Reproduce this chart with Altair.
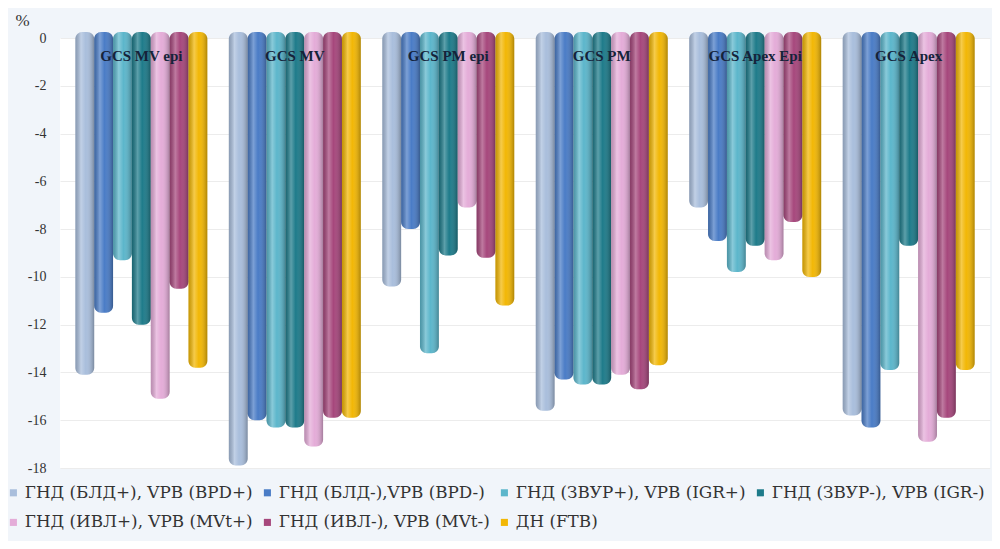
import altair as alt
import pandas as pd

groups = ["GCS MV epi", "GCS MV", "GCS PM epi", "GCS PM", "GCS Apex Epi", "GCS Apex"]
series = [
    "ГНД (БЛД+), VPB (BPD+)",
    "ГНД (БЛД-),VPB (BPD-)",
    "ГНД (ЗВУР+), VPB (IGR+)",
    "ГНД (ЗВУР-), VPB (IGR-)",
    "ГНД (ИВЛ+), VPB (MVt+)",
    "ГНД (ИВЛ-), VPB (MVt-)",
    "ДН (FTB)",
]
colors = ["#a9bedc", "#4a7cc6", "#5cb6cb", "#1e7b8a", "#e4acd8", "#a6477c", "#f2b705"]

bpd_pos = [-14.1, -17.9, -10.4, -15.6, -7.1, -15.8]
bpd_neg = [-11.5, -16.0, -8.0, -14.3, -8.5, -16.3]
igr_pos = [-9.3, -16.3, -13.2, -14.5, -9.8, -13.9]
igr_neg = [-12.0, -16.3, -9.1, -14.5, -8.7, -8.7]
mvt_pos = [-15.1, -17.1, -7.1, -14.1, -9.3, -16.9]
mvt_neg = [-10.5, -15.9, -9.2, -14.7, -7.7, -15.9]
ftb = [-13.8, -15.9, -11.2, -13.7, -10.0, -13.9]

y_ticks = [0, -2, -4, -6, -8, -10, -12, -14, -16, -18]

all_vals = [bpd_pos, bpd_neg, igr_pos, igr_neg, mvt_pos, mvt_neg, ftb]
rows = []
for s_i, s in enumerate(series):
    for g_i, g in enumerate(groups):
        rows.append({"group": g, "series": s, "order": s_i, "value": all_vals[s_i][g_i]})
df = pd.DataFrame(rows)
labels_df = pd.DataFrame({"group": groups})

serif = "Liberation Serif"
legend_font = "DejaVu Serif"

x_scale = alt.Scale(paddingInner=0.14, paddingOuter=0.1)
x_enc = alt.X("group:N", sort=groups, axis=None, scale=x_scale)
xoff = alt.XOffset("series:N", sort=series)
y_enc = alt.Y("value:Q",
              scale=alt.Scale(domain=[-18, 0], nice=False),
              axis=alt.Axis(values=y_ticks, title="%", titleAngle=0, titleX=-38, titleY=-18,
                            titleBaseline="middle", titleAlign="center",
                            titleFont=serif, titleFontSize=17, titleFontWeight="normal",
                            titleColor="#333333", labelFont=serif, labelFontSize=14,
                            labelColor="#333333", labelPadding=14, domain=False, ticks=False,
                            labelExpr="datum.value == 0 ? '0' : '-' + abs(datum.value)",
                            gridColor="#ececec", gridWidth=1))

bars = alt.Chart(df).mark_bar(cornerRadius=7, width=alt.RelativeBandSize(1.0)).encode(
    x=x_enc,
    xOffset=xoff,
    y=y_enc,
    y2=alt.datum(0.25),
    color=alt.Color("series:N", sort=series,
                    scale=alt.Scale(domain=series, range=colors),
                    legend=alt.Legend(title=None, orient="none", legendX=-55, legendY=446,
                                      direction="horizontal", columns=4, gridAlign="each",
                                      symbolType="square", symbolSize=50, symbolStrokeWidth=0,
                                      labelFont=legend_font, labelFontSize=16.8,
                                      labelColor="#333333", labelOffset=3, columnPadding=6,
                                      rowPadding=12, labelLimit=340)),
)

shade = alt.Chart(df).mark_bar(cornerRadius=7, width=alt.RelativeBandSize(1.0)).encode(
    x=x_enc,
    xOffset=xoff,
    y=alt.Y("value:Q", scale=alt.Scale(domain=[-18, 0], nice=False)),
    y2=alt.datum(0.25),
    fill=alt.value({
        "gradient": "linear", "x1": 0, "x2": 1, "y1": 0, "y2": 0,
        "stops": [
            {"offset": 0, "color": "rgba(0,0,0,0.18)"},
            {"offset": 0.3, "color": "rgba(255,255,255,0.28)"},
            {"offset": 0.55, "color": "rgba(255,255,255,0.0)"},
            {"offset": 1, "color": "rgba(0,0,0,0.28)"},
        ],
    }),
)

texts = alt.Chart(labels_df).mark_text(font=serif, fontSize=15, fontWeight="bold",
                                       color="#15233a", baseline="middle").encode(
    x=alt.X("group:N", sort=groups, axis=None, scale=x_scale),
    y=alt.value(18),
    text="group:N",
)

chart = alt.layer(bars, shade, texts).properties(
    width=930, height=430,
    autosize=alt.AutoSizeParams(type="none"),
    padding={"left": 52, "top": 30, "right": 2, "bottom": 73},
    background="#f1f5fa",
).configure(font=serif).configure_view(fill="white", stroke=None)

chart.save("out.html", embed_options={"renderer": "svg", "actions": False})
